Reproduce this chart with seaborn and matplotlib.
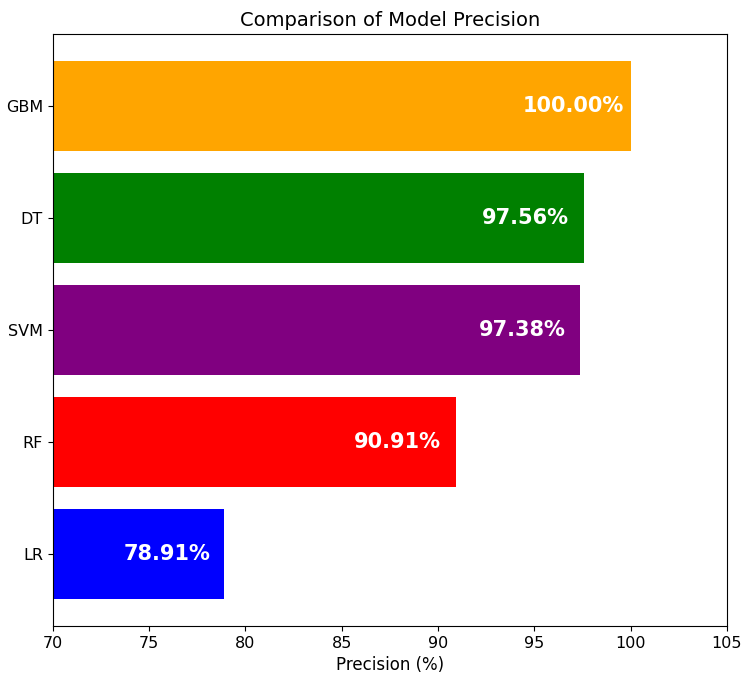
import matplotlib
matplotlib.use('Agg')
import matplotlib.pyplot as plt
import seaborn as sns
import pandas as pd

# model names (top to bottom) and their precision
models = ['GBM', 'DT', 'SVM', 'RF', 'LR']
precision = [100.00, 97.56, 97.38, 90.91, 78.91]
bar_colors = ['orange', 'green', 'purple', 'red', 'blue']

df = pd.DataFrame({'Model': models, 'Precision': precision})

fig, ax = plt.subplots(figsize=(7.44, 6.93), dpi=100)
fig.subplots_adjust(left=0.071, right=0.977, top=0.951, bottom=0.097)

sns.barplot(data=df, x='Precision', y='Model', hue='Model', palette=bar_colors,
            order=models, orient='h', saturation=1, width=0.8, legend=False, ax=ax)

#value labels inside the bars
for i, v in enumerate(precision):
    ax.text(v - 3, i, '{:.2f}%'.format(v), ha='center', va='center',
            color='white', fontweight='bold', fontsize=15)

ax.set_xlim(70, 105)
ax.set_ylim(len(models) - 0.36, -0.64)
ax.set_xlabel('Precision (%)', fontsize=12)
ax.set_ylabel('')
ax.set_title('Comparison of Model Precision', fontsize=14)
ax.tick_params(labelsize=11.5)
for s in ax.spines.values():
    s.set_visible(True)
    s.set_color('black')

fig.savefig('out.png', dpi=100)
